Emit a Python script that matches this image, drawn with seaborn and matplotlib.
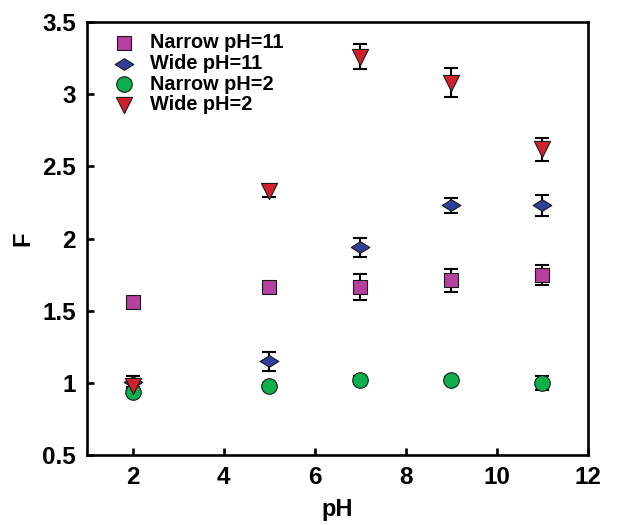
import numpy as np
import pandas as pd
import matplotlib
matplotlib.use("Agg")
import matplotlib.pyplot as plt
from matplotlib.path import Path
from matplotlib.ticker import FuncFormatter, MultipleLocator
import seaborn as sns

# Measured F versus pH for four sample types
ph = [2, 5, 7, 9, 11]
narrow_ph11 = [1.56, 1.665, 1.665, 1.71, 1.75]
narrow_ph11_err = [0.02, 0.02, 0.087, 0.08, 0.07]
wide_ph11 = [1.01, 1.15, 1.94, 2.23, 2.23]
wide_ph11_err = [0.04, 0.065, 0.065, 0.05, 0.07]
narrow_ph2 = [0.94, 0.98, 1.02, 1.02, 1.0]
narrow_ph2_err = [0.02, 0.02, 0.03, 0.02, 0.05]
wide_ph2 = [0.98, 2.33, 3.26, 3.08, 2.62]
wide_ph2_err = [0.03, 0.04, 0.085, 0.1, 0.08]

series_names = ["Narrow pH=11", "Wide pH=11", "Narrow pH=2", "Wide pH=2"]
values = [narrow_ph11, wide_ph11, narrow_ph2, wide_ph2]
errors = [narrow_ph11_err, wide_ph11_err, narrow_ph2_err, wide_ph2_err]

df = pd.DataFrame({
    "pH": np.tile(ph, len(series_names)),
    "F": np.concatenate(values),
    "err": np.concatenate(errors),
    "series": np.repeat(series_names, len(ph)),
})

sns.set_style("ticks", {"text.color": "black", "axes.labelcolor": "black",
                        "xtick.color": "black", "ytick.color": "black",
                        "axes.edgecolor": "black"})
plt.rcParams["font.family"] = ["Liberation Sans", "DejaVu Sans"]
plt.rcParams["font.weight"] = "bold"

colors = {
    "Narrow pH=11": "#b5409f",
    "Wide pH=11": "#2f3f9a",
    "Narrow pH=2": "#0db04b",
    "Wide pH=2": "#d0202a",
}
flat_diamond = Path([(-1, 0), (0, 0.62), (1, 0), (0, -0.62), (-1, 0)],
                    [Path.MOVETO, Path.LINETO, Path.LINETO, Path.LINETO, Path.CLOSEPOLY])
markers = {
    "Narrow pH=11": "s",
    "Wide pH=11": flat_diamond,
    "Narrow pH=2": "o",
    "Wide pH=2": "v",
}
sizes = {"Narrow pH=11": 95, "Wide pH=11": 180, "Narrow pH=2": 125, "Wide pH=2": 135}

fig = plt.figure(figsize=(6.18, 5.25), dpi=100)
ax = fig.add_axes([0.141, 0.133, 0.81, 0.825])

for name in series_names:
    sub = df[df["series"] == name]
    ax.errorbar(sub["pH"], sub["F"], yerr=sub["err"], fmt="none",
                ecolor="black", elinewidth=1.5, capsize=5, capthick=1.5, zorder=1)

for name in series_names:
    sub = df[df["series"] == name]
    sns.scatterplot(data=sub, x="pH", y="F", ax=ax, color=colors[name],
                    marker=markers[name], s=sizes[name], edgecolor="#1a1a1a",
                    linewidth=0.8, label=name, zorder=3)

ax.set_xlim(1, 12)
ax.set_ylim(0.5, 3.5)
ax.xaxis.set_major_locator(MultipleLocator(2))
ax.yaxis.set_major_locator(MultipleLocator(0.5))
ax.yaxis.set_major_formatter(FuncFormatter(lambda v, p: f"{v:g}"))

for sp in ax.spines.values():
    sp.set_linewidth(1.9)
    sp.set_visible(True)
    sp.set_color("black")
ax.tick_params(direction="in", length=5, width=1.9, labelsize=17.5, pad=8,
               colors="black")
for lab in ax.get_xticklabels() + ax.get_yticklabels():
    lab.set_fontweight("bold")

ax.set_xlabel("pH", fontsize=17, fontweight="bold", labelpad=6, color="black")
ax.set_ylabel("F", fontsize=17, fontweight="bold", labelpad=6, color="black")

leg = ax.legend(loc="upper left", frameon=False, fontsize=14.3,
                handletextpad=0.3, labelspacing=0.08, borderaxespad=0.3,
                borderpad=0.45, bbox_to_anchor=(0.005, 1.008))
for t in leg.get_texts():
    t.set_fontweight("bold")
    t.set_color("black")

fig.savefig("out.png", dpi=100)
